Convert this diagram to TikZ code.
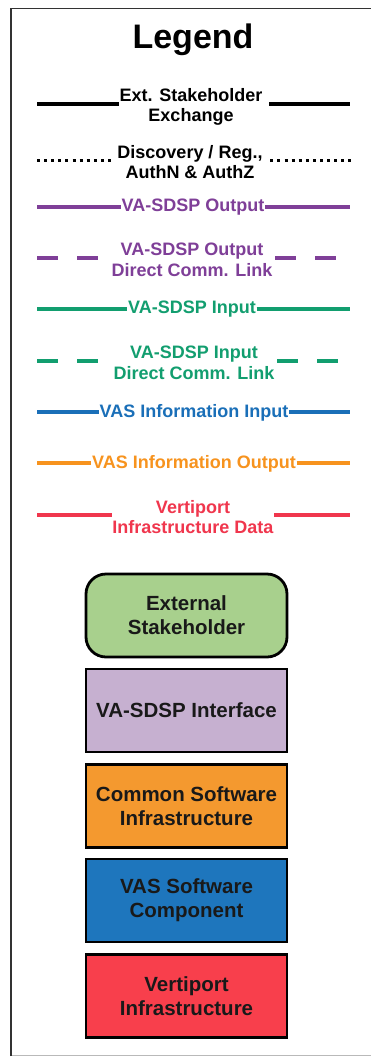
\documentclass[tikz,border=0pt]{standalone}
\usepackage{fontspec}
\setmainfont{Liberation Sans}
\definecolor{cPurple}{HTML}{7F3F98}
\definecolor{cGreen}{HTML}{129E6F}
\definecolor{cBlue}{HTML}{1A6FB8}
\definecolor{cOrange}{HTML}{F7931E}
\definecolor{cRed}{HTML}{F0364D}
\definecolor{fGreen}{HTML}{A8D08D}
\definecolor{fLav}{HTML}{C6B0D0}
\definecolor{fOrange}{HTML}{F4992F}
\definecolor{fBlue}{HTML}{1E76BD}
\definecolor{fRed}{HTML}{F83F4C}
\tikzset{
  lbl/.style={font=\fontsize{18}{20.5}\selectfont\bfseries, align=center, inner xsep=0.6pt, inner ysep=0pt},
  solidln/.style={line width=3.1pt},
  blackln/.style={line width=3.4pt, black},
  dotln/.style={line width=3pt, black, dash pattern=on 3pt off 4.1pt},
  dashln/.style={line width=3.1pt, dash pattern=on 21pt off 19pt},
  keybox/.style={draw=black, line width=2.8pt, minimum width=201pt, minimum height=83pt,
    font=\fontsize{20.5}{24}\selectfont\bfseries, align=center, text=black!90, inner sep=0pt},
}
\begin{document}
\begin{tikzpicture}[x=1pt, y=-1pt]
\useasboundingbox (0,0) rectangle (371,1057);
\fill[white] (0,0) rectangle (371,1057);
% frame
\draw[gray!55, line width=1pt] (11,1055) -- (372,1055);
\draw[black!80, line width=1.6pt] (11,1056) -- (11,8.5) -- (372,8.5);

% title
\node[font=\fontsize{34}{38}\selectfont\bfseries, anchor=base] (title) at (193,48.5) {Legend};

% line keys
\node[lbl] (t1) at (191,107) {Ext. Stakeholder\\Exchange};
\coordinate (l1) at (37,104); \coordinate (r1) at (350,104);
\draw[blackln] (l1) -- (l1 -| t1.west);
\draw[blackln] ([xshift=6pt]t1.east |- r1) -- (r1);

\node[lbl] (t2) at (190,162) {Discovery / Reg.,\\AuthN \& AuthZ};
\coordinate (l2) at (37,160); \coordinate (r2) at (352,160);
\draw[dotln] (l2) -- ([xshift=-2pt]l2 -| t2.west);
\draw[dotln] ([xshift=7pt]t2.east |- r2) -- (r2);

\node[lbl, text=cPurple] (t3) at (193,207.5) {VA-SDSP Output};
\coordinate (l3) at (37,207); \coordinate (r3) at (350,207);
\draw[solidln, cPurple] (l3) -- (l3 -| t3.west);
\draw[solidln, cPurple] (t3.east |- r3) -- (r3);

\node[lbl, text=cPurple] (t4) at (192,260) {VA-SDSP Output\\Direct Comm. Link};
\coordinate (l4) at (37,258); \coordinate (r4) at (350,258);
\draw[dashln, cPurple] (l4) -- (l4 -| t4.west);
\draw[dashln, cPurple] ([xshift=2pt]t4.east |- r4) -- (r4);

\node[lbl, text=cGreen] (t5) at (192,309.5) {VA-SDSP Input};
\coordinate (l5) at (37,309); \coordinate (r5) at (350,309);
\draw[solidln, cGreen] (l5) -- (l5 -| t5.west);
\draw[solidln, cGreen] (t5.east |- r5) -- (r5);

\node[lbl, text=cGreen] (t6) at (194,363) {VA-SDSP Input\\Direct Comm. Link};
\coordinate (l6) at (37,361); \coordinate (r6) at (350,361);
\draw[dashln, cGreen] (l6) -- (l6 -| t6.west);
\draw[dashln, cGreen] ([xshift=2pt]t6.east |- r6) -- (r6);

\node[lbl, text=cBlue] (t7) at (194,412.5) {VAS Information Input};
\coordinate (l7) at (37,412); \coordinate (r7) at (350,412);
\draw[solidln, cBlue] (l7) -- (l7 -| t7.west);
\draw[solidln, cBlue] (t7.east |- r7) -- (r7);

\node[lbl, text=cOrange] (t8) at (194,463.5) {VAS Information Output};
\coordinate (l8) at (37,463); \coordinate (r8) at (350,463);
\draw[solidln, cOrange] (l8) -- (l8 -| t8.west);
\draw[solidln, cOrange] (t8.east |- r8) -- (r8);

\node[lbl, text=cRed] (t9) at (193,517) {Vertiport\\Infrastructure Data};
\coordinate (l9) at (37,515); \coordinate (r9) at (350,515);
\draw[solidln, cRed] (l9) -- (l9 -| t9.west);
\draw[solidln, cRed] (t9.east |- r9) -- (r9);

% element keys
\node[keybox, fill=fGreen, rounded corners=20pt] (bExt) at (186.5,615.5) {External\\Stakeholder};
\node[keybox, fill=fLav] (bIf) at (186.5,710.5) {VA-SDSP Interface};
\node[keybox, fill=fOrange] (bCom) at (186.5,806) {Common Software\\Infrastructure};
\node[keybox, fill=fBlue] (bVas) at (186.5,900.5) {VAS Software\\Component};
\node[keybox, fill=fRed] (bVert) at (186.5,996) {Vertiport\\Infrastructure};
\end{tikzpicture}
\end{document}
